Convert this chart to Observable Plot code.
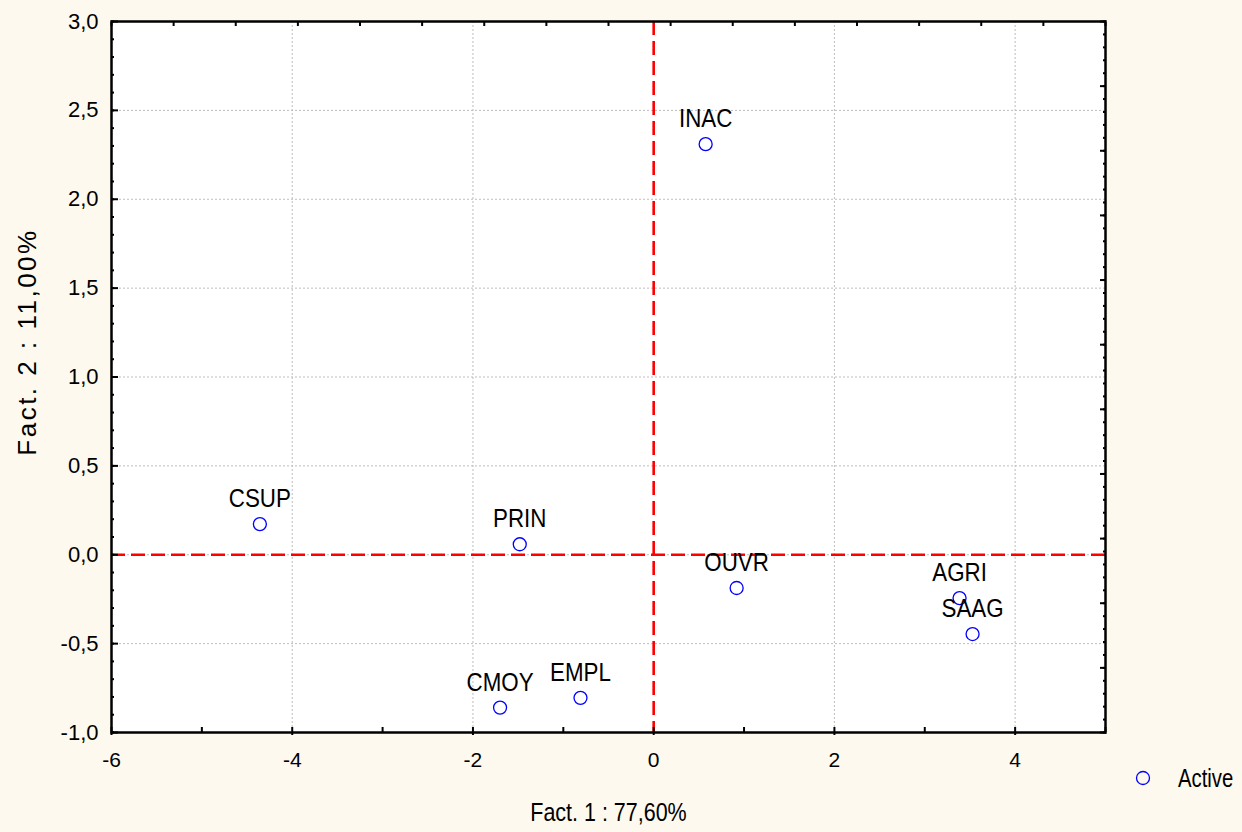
<!DOCTYPE html>
<html>
<head>
<meta charset="utf-8">
<script src="https://cdn.jsdelivr.net/npm/d3@7"></script>
<script src="https://cdn.jsdelivr.net/npm/@observablehq/plot@0.6"></script>
<style>
  html, body { margin: 0; padding: 0; background: #fdf9ee; }
  #wrap { position: relative; width: 1242px; height: 832px; overflow: hidden; }
  #legend { position: absolute; left: 1130px; top: 758px; }
</style>
</head>
<body>
<div id="wrap"><div id="chart"></div>
<div id="legend"><svg width="108" height="40"><circle cx="13" cy="20" r="6.5" fill="none" stroke="#0000ff" stroke-width="1.3"/><text id="legtext" transform="translate(48,20) scale(0.78,1)" dominant-baseline="central" font-family="'Liberation Sans', Arial, sans-serif" font-size="26" fill="#000"></text></svg></div>
</div>
<script>
const names = ["CSUP", "PRIN", "INAC", "OUVR", "AGRI", "SAAG", "CMOY", "EMPL"];
const fact1 = [-4.358, -1.482, 0.575, 0.918, 3.385, 3.529, -1.70, -0.81];
const fact2 = [0.1725, 0.059, 2.31, -0.187, -0.244, -0.446, -0.86, -0.805];
const xLabelTicks = [-6, -4, -2, 0, 2, 4];
const yLabelTicks = [-1, -0.5, 0, 0.5, 1, 1.5, 2, 2.5, 3];
const xTitle = "Fact. 1 : 77,60%";
const yTitle = "Fact. 2 : 11,00%";
const seriesName = "Active";

document.getElementById("legtext").textContent = seriesName;

const points = names.map((n, i) => ({name: n, f1: fact1[i], f2: fact2[i]}));
const comma = d => d.toFixed(1).replace(".", ",");
const xfmt = d => String(d).replace("−", "-");
const font = "'Liberation Sans', Arial, sans-serif";

const xMinor = d3.range(-6, 5.001, 1);
const yMinor = d3.range(0, 41).map(k => -1 + k * 0.1);
const topTicks = d3.range(0, 17).map(k => -6 + k * 11 / 16);
const rightTicks = d3.range(0, 56).map(k => 3 - k * 4 / 55);
const rightMajor = d3.range(0, 12).map(k => 3 - k * 4 / 11);

const chart = Plot.plot({
  width: 1242,
  height: 832,
  marginLeft: 111,
  marginRight: 137,
  marginTop: 21,
  marginBottom: 100,
  style: {background: "#fdf9ee", fontFamily: font, fontSize: "20px", color: "#000"},
  x: {domain: [-6, 5]},
  y: {domain: [-1, 3]},
  marks: [
    Plot.frame({fill: "white", stroke: null}),
    Plot.gridX([-4, -2, 2, 4], {stroke: "#bdbdbd", strokeOpacity: 1, strokeDasharray: "2,2", strokeWidth: 1}),
    Plot.gridY(yLabelTicks, {stroke: "#bdbdbd", strokeOpacity: 1, strokeDasharray: "2,2", strokeWidth: 1}),
    Plot.ruleX([0], {stroke: "#ff0000", strokeWidth: 2.6, strokeDasharray: "14,6"}),
    Plot.ruleY([0], {stroke: "#ff0000", strokeWidth: 2.6, strokeDasharray: "14,6"}),
    // tick labels
    Plot.axisX(xLabelTicks, {tickSize: 0, tickPadding: 20, tickFormat: xfmt, label: null}),
    Plot.axisY(yLabelTicks, {tickSize: 0, tickPadding: 13, tickFormat: comma, label: null}),
    // inward ticks
    Plot.axisX(xMinor, {tickSize: -5, tickFormat: () => "", label: null, strokeWidth: 2}),
    Plot.axisX([-6, -4, -2, 0, 2, 4], {tickSize: 3, tickFormat: () => "", label: null, strokeWidth: 2}),
    Plot.axisY(yMinor, {tickSize: -3, tickFormat: () => "", label: null, strokeWidth: 2}),
    Plot.axisY(yLabelTicks, {tickSize: -7, tickFormat: () => "", label: null, strokeWidth: 2}),
    Plot.axisX(topTicks, {anchor: "top", tickSize: -4, tickFormat: () => "", label: null, strokeWidth: 2}),
    Plot.axisY(rightTicks, {anchor: "right", tickSize: -3, tickFormat: () => "", label: null, strokeWidth: 2}),
    Plot.axisY(rightMajor, {anchor: "right", tickSize: -6, tickFormat: () => "", label: null, strokeWidth: 2}),
    // points
    Plot.dot(points, {x: "f1", y: "f2", r: 6.5, stroke: "#0000ff", strokeWidth: 1.3, fill: "none"}),
    Plot.text(points, {x: "f1", y: "f2", text: "name", dy: -17, lineAnchor: "bottom", fontSize: 26, fill: "#000"}),
    // titles
    Plot.text([xTitle], {frameAnchor: "bottom", dy: 80, lineAnchor: "middle", textAnchor: "middle", fontSize: 25, fill: "#000"}),
    Plot.text([yTitle], {frameAnchor: "left", dx: -84, dy: -35, rotate: -90, lineAnchor: "middle", textAnchor: "middle", fontSize: 26, fill: "#000"}),
    Plot.frame({stroke: "black", strokeWidth: 2.5})
  ]
});
document.getElementById("chart").appendChild(chart);

// post-style texts by content (narrow face look, larger tick labels)
const yTickStr = yLabelTicks.map(comma);
const xTickStr = xLabelTicks.map(xfmt);
function toPx(v, fs) {
  if (v == null) return 0;
  const s = String(v).trim();
  if (s.endsWith("em")) return parseFloat(s) * fs;
  return parseFloat(s) || 0;
}
chart.querySelectorAll("text").forEach(t => {
  const s = t.textContent;
  if (names.includes(s) || s === xTitle) {
    const fs = parseFloat(getComputedStyle(t).fontSize) || 20;
    const tr = t.getAttribute("transform") || "";
    const x = toPx(t.getAttribute("x"), fs), y = toPx(t.getAttribute("y"), fs);
    t.removeAttribute("x"); t.removeAttribute("y");
    t.setAttribute("transform", `${tr} translate(${x},${y}) scale(0.86,1)`);
  } else if (s === yTitle) {
    t.style.letterSpacing = "2.5px";
  } else if (yTickStr.includes(s)) {
    t.style.fontSize = "22px";
  } else if (xTickStr.includes(s)) {
    t.style.fontSize = "21px";
  }
});
</script>
</body>
</html>
